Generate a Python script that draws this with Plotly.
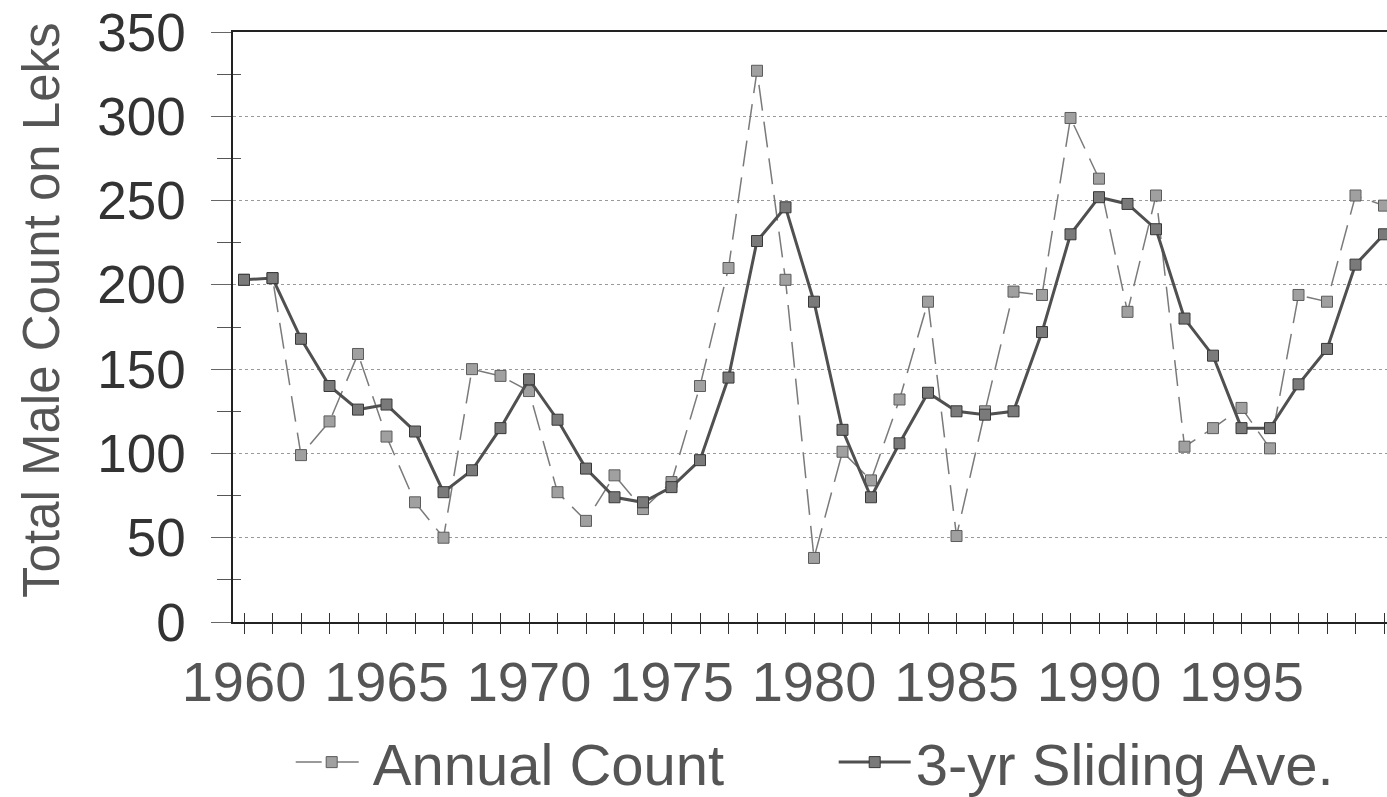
import plotly.graph_objects as go

years = list(range(1960, 2001))
annual_count = [203, 204, 99, 119, 159, 110, 71, 50, 150, 146, 137, 77, 60, 87, 67,
                83, 140, 210, 327, 203, 38, 101, 84, 132, 190, 51, 125, 196, 194, 299,
                263, 184, 253, 104, 115, 127, 103, 194, 190, 253, 247]
sliding_ave = [203, 204, 168, 140, 126, 129, 113, 77, 90, 115, 144, 120, 91, 74, 71,
               80, 96, 145, 226, 246, 190, 114, 74, 106, 136, 125, 123, 125, 172, 230,
               252, 248, 233, 180, 158, 115, 115, 141, 162, 212, 230]
x_tick_vals = [1960, 1965, 1970, 1975, 1980, 1985, 1990, 1995]
y_tick_vals = [0, 50, 100, 150, 200, 250, 300, 350]
y_minor_vals = [25, 75, 125, 175, 225, 275, 325]
y_title = "Total Male Count on Leks"

FONT = "Liberation Sans, Arial, sans-serif"
x_range = [1959.614, 2000.105]

fig = go.Figure()
fig.add_trace(go.Scatter(
    x=years, y=annual_count, name="Annual Count", mode="lines+markers",
    line=dict(color="#7a7a7a", width=1.5, dash="26px,11px"),
    marker=dict(symbol="square", size=11, color="#a0a0a0",
                line=dict(color="#5c5c5c", width=1)),
))
fig.add_trace(go.Scatter(
    x=years, y=sliding_ave, name="3-yr Sliding Ave.", mode="lines+markers",
    line=dict(color="#505050", width=3),
    marker=dict(symbol="square", size=11, color="#7a7a7a",
                line=dict(color="#383838", width=1)),
))
# empty helper traces so that overlay axes (crossing tick marks) are drawn
fig.add_trace(go.Scatter(x=[], y=[], xaxis="x2", yaxis="y", showlegend=False, hoverinfo="skip"))
fig.add_trace(go.Scatter(x=[], y=[], xaxis="x", yaxis="y2", showlegend=False, hoverinfo="skip"))

fig.update_layout(
    width=1387, height=797,
    margin=dict(l=233, r=0, t=32, b=175, autoexpand=False),
    paper_bgcolor="white", plot_bgcolor="white",
    font=dict(family=FONT, color="#4a4a4a"),
    xaxis=dict(
        range=x_range, tickmode="array", tickvals=x_tick_vals, automargin=False,
        ticks="outside", ticklen=10, tickwidth=1.2, tickcolor="#333",
        minor=dict(tickmode="array", tickvals=years, ticks="outside", ticklen=10,
                   tickwidth=1.2, tickcolor="#333"),
        showline=True, linecolor="#222", linewidth=1.5, mirror=True,
        showgrid=False, zeroline=False,
        tickfont=dict(family=FONT, size=56, color="#555555"),
        ticklabelstandoff=0, ticklabeloverflow="allow",
    ),
    xaxis2=dict(
        range=x_range, overlaying="x", anchor="y", side="bottom", automargin=False,
        tickmode="array", tickvals=years, ticks="inside", ticklen=9,
        tickwidth=1.2, tickcolor="#333", showticklabels=False,
        showgrid=False, showline=False, zeroline=False,
    ),
    yaxis=dict(
        range=[0, 350], tickmode="array", tickvals=y_tick_vals, automargin=False,
        ticks="outside", ticklen=20, tickwidth=1, tickcolor="#666",
        minor=dict(tickmode="array", tickvals=y_minor_vals, ticks="outside",
                   ticklen=14, tickwidth=1, tickcolor="#555"),
        showline=True, linecolor="#222", linewidth=1.5,
        showgrid=True, gridcolor="#9a9a9a", gridwidth=1, griddash="dot",
        zeroline=False,
        tickfont=dict(family=FONT, size=53, color="#333333"),
        ticklabelstandoff=15, ticklabeloverflow="allow",
    ),
    yaxis2=dict(
        range=[0, 350], overlaying="y", anchor="x", side="left", automargin=False,
        tickmode="array", tickvals=y_minor_vals, ticks="inside", ticklen=8,
        tickwidth=1, tickcolor="#555", showticklabels=False,
        showgrid=False, showline=False, zeroline=False,
    ),
    legend=dict(
        orientation="h", x=0.050, xanchor="left", y=-0.238, yanchor="middle",
        font=dict(family=FONT, size=58, color="#555555"),
        itemwidth=72, entrywidth=456, entrywidthmode="pixels",
        bgcolor="rgba(0,0,0,0)",
    ),
    annotations=[dict(
        text=y_title, xref="paper", yref="paper",
        x=-0.1655, y=0.529, xanchor="center", yanchor="middle",
        textangle=-90, showarrow=False,
        font=dict(family=FONT, size=51, color="#555555"),
    )],
    showlegend=True,
)

# remove the default 8px page margin so the figure fills the window exactly
fig.write_html("out.html", config={"displayModeBar": False},
               post_script="document.body.style.margin='0';")
